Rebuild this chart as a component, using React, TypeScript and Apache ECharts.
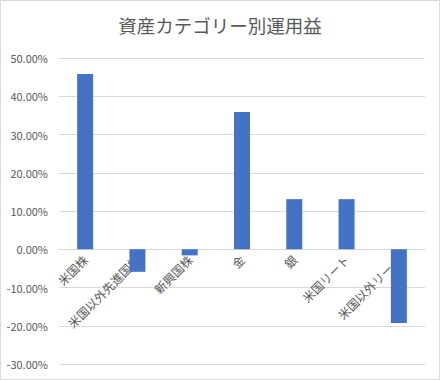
import React, { useEffect, useRef } from "react";
import * as echarts from "echarts";

const categories = ["米国株", "米国以外先進国株", "新興国株", "金", "銀", "米国リート", "米国以外リート"];
const returns = [45.8, -5.9, -1.6, 35.9, 13.1, 13.1, -19.3];
const yMin = -30;
const yMax = 50;
const yStep = 10;
const titleText = "資産カテゴリー別運用益";

const W = 440;
const H = 380;
const gridTop = 58;
const gridBottom = 16;

export default function App() {
  const ref = useRef<HTMLDivElement>(null);
  useEffect(() => {
    if (!ref.current) return;
    const chart = echarts.init(ref.current, undefined, { renderer: "svg" });
    const font = "'Noto Sans CJK JP', 'Noto Sans', sans-serif";
    const gridH = H - gridTop - gridBottom;
    const zeroOffset = (gridH * (0 - yMin)) / (yMax - yMin);
    chart.setOption({
      animation: false,
      backgroundColor: "#ffffff",
      title: {
        text: titleText,
        left: "center",
        top: 11,
        textStyle: { fontFamily: font, fontSize: 18.5, fontWeight: "normal", color: "#595959" },
      },
      grid: {
        left: 59,
        right: 15,
        top: gridTop,
        bottom: gridBottom,
        containLabel: false,
        outerBoundsMode: "none",
      },
      graphic: [
        {
          type: "rect",
          shape: { x: 0.5, y: 0.5, width: W - 1, height: H - 1 },
          style: { fill: "none", stroke: "#d9d9d9", lineWidth: 1 },
          silent: true,
        },
      ],
      xAxis: {
        type: "category",
        data: categories,
        position: "bottom",
        offset: -zeroOffset,
        axisLine: { onZero: false, lineStyle: { color: "#d9d9d9" } },
        axisTick: { show: false },
        axisLabel: {
          rotate: 45,
          interval: 0,
          margin: 8,
          color: "#595959",
          fontFamily: font,
          fontSize: 12,
        },
      },
      yAxis: {
        type: "value",
        min: yMin,
        max: yMax,
        interval: yStep,
        axisLine: { show: false },
        axisTick: { show: false },
        splitLine: { lineStyle: { color: "#d9d9d9" } },
        axisLabel: {
          margin: 11,
          color: "#595959",
          fontFamily: font,
          fontSize: 11,
          formatter: (v: number) => v.toFixed(2) + "%",
        },
      },
      series: [
        {
          type: "bar",
          data: returns,
          barWidth: 16,
          itemStyle: { color: "#4472C4" },
        },
      ],
    });
    return () => chart.dispose();
  }, []);
  return (
    <div
      ref={ref}
      style={{ position: "fixed", left: 0, top: 0, width: W, height: H }}
    />
  );
}
